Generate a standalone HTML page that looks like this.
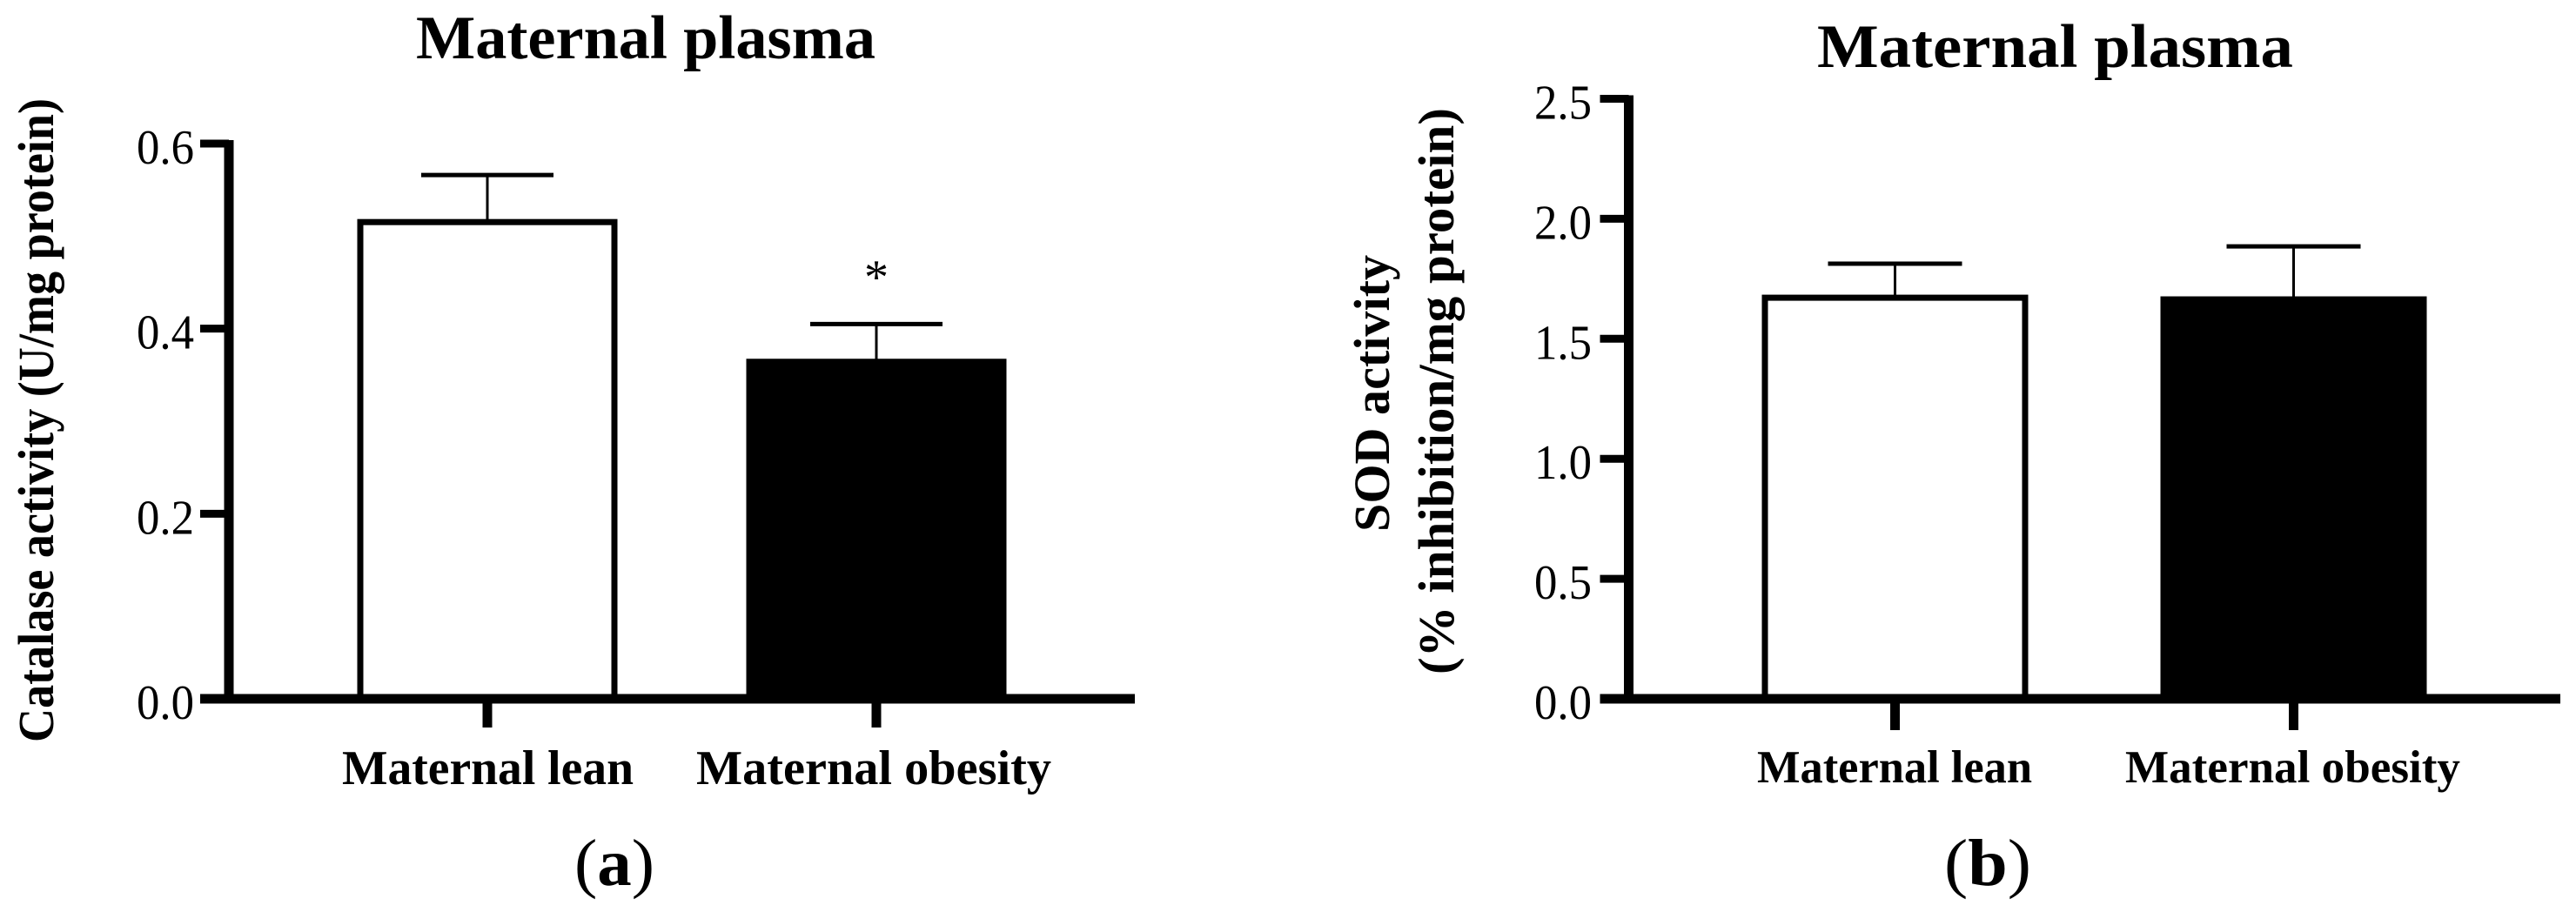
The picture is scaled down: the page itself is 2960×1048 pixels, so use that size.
<!DOCTYPE html>
<html lang="en">
<head>
<meta charset="utf-8">
<title>Maternal plasma catalase and SOD activity</title>
<style>
  html, body { margin: 0; padding: 0; background: #fff; }
  svg { display: block; }
  text { font-family: "Liberation Serif", serif; fill: #000; }
  .title { font-size: 71px; font-weight: bold; }
  .ylab { font-size: 58px; font-weight: bold; }
  .panel { font-size: 76px; }
</style>
</head>
<body>
<svg id="figure" xmlns="http://www.w3.org/2000/svg" width="2960" height="1048" viewBox="0 0 2960 1048">
  <rect x="0" y="0" width="2960" height="1048" fill="#fff"/>

  <g id="chart-a">
    <text class="title" x="478" y="67" textLength="528" lengthAdjust="spacingAndGlyphs">Maternal plasma</text>
    <text class="ylab" transform="translate(61,853) rotate(-90)" textLength="740" lengthAdjust="spacingAndGlyphs">Catalase activity (U/mg protein)</text>
    <text x="1007" y="337" font-size="56" text-anchor="middle">*</text>
    <text class="panel" x="660" y="1017" textLength="92" lengthAdjust="spacingAndGlyphs">(<tspan font-weight="bold">a</tspan>)</text>
  </g>

  <g id="chart-b">
    <text class="title" x="2088" y="77" textLength="547" lengthAdjust="spacingAndGlyphs">Maternal plasma</text>
    <text class="ylab" transform="translate(1596,611) rotate(-90)" textLength="318" lengthAdjust="spacingAndGlyphs">SOD activity</text>
    <text class="ylab" transform="translate(1670,775) rotate(-90)" textLength="651" lengthAdjust="spacingAndGlyphs">(% inhibition/mg protein)</text>
    <text class="panel" x="2234" y="1017" textLength="100" lengthAdjust="spacingAndGlyphs">(<tspan font-weight="bold">b</tspan>)</text>
  </g>
</svg>

<script>
// Chart data
const categories = ['Maternal lean', 'Maternal obesity'];
const catalaseValues = [0.518, 0.367];
const catalaseErrorTops = [0.566, 0.405];
const catalaseTicks = [0.0, 0.2, 0.4, 0.6];
const catalaseTickLabels = ['0.0', '0.2', '0.4', '0.6'];
const sodValues = [1.682, 1.675];
const sodErrorTops = [1.813, 1.885];
const sodTicks = [0.0, 0.5, 1.0, 1.5, 2.0, 2.5];
const sodTickLabels = ['0.0', '0.5', '1.0', '1.5', '2.0', '2.5'];
const barFills = ['#fff', '#000'];

const SVG_NS = 'http://www.w3.org/2000/svg';

function line(parent, x1, y1, x2, y2, w) {
  const el = document.createElementNS(SVG_NS, 'line');
  el.setAttribute('x1', x1);
  el.setAttribute('y1', y1);
  el.setAttribute('x2', x2);
  el.setAttribute('y2', y2);
  el.setAttribute('stroke', '#000');
  el.setAttribute('stroke-width', w);
  parent.appendChild(el);
  return el;
}

function drawChart(cfg) {
  const root = document.getElementById(cfg.id);
  const yScale = v => cfg.y0 + (cfg.yMaxPx - cfg.y0) * v / cfg.yMax;
  const xScale = i => cfg.x0 + cfg.xStep * i;

  // bars and error bars (drawn first so the axes sit on top)
  cfg.values.forEach((v, i) => {
    const cx = xScale(i);
    const top = yScale(v);
    const errTop = yScale(cfg.errors[i]);
    const stem = line(root, cx, errTop, cx, top + 2, 3);
    
    
    const cap = line(root, cx - cfg.capHalf, errTop, cx + cfg.capHalf, errTop, 5);
    
    
    const bar = document.createElementNS(SVG_NS, 'rect');
    bar.setAttribute('x', cx - cfg.barHalf + 3.5);
    bar.setAttribute('y', top + 3);
    bar.setAttribute('width', 2 * cfg.barHalf - 7);
    bar.setAttribute('height', cfg.y0 - top - 3);
    bar.setAttribute('fill', barFills[i]);
    bar.setAttribute('stroke', '#000');
    bar.setAttribute('stroke-width', 7);
    
    
    root.appendChild(bar);
  });

  // y axis
  const yAxis = line(root, cfg.axisX, yScale(cfg.yMax) - 4, cfg.axisX, cfg.y0 + 5, 11);
  
  
  cfg.ticks.forEach((t, i) => {
    const y = yScale(t);
    const tick = line(root, cfg.axisX - 33, y, cfg.axisX, y, i === 0 ? 10 : 9);
    
    
    const label = document.createElementNS(SVG_NS, 'text');
    label.setAttribute('x', cfg.axisX - cfg.labelOffset);
    label.setAttribute('y', y + 23);
    label.setAttribute('font-size', 56);
    label.setAttribute('textLength', 66);
    label.setAttribute('lengthAdjust', 'spacingAndGlyphs');
    label.textContent = cfg.tickLabels[i];
    
    
    root.appendChild(label);
  });

  // x axis
  const xAxis = line(root, cfg.axisX - 33, cfg.y0, cfg.axisEnd, cfg.y0, 11);
  
  
  categories.forEach((c, i) => {
    const cx = xScale(i);
    const tick = line(root, cx, cfg.y0, cx, cfg.tickBottom, 11);
    
    
    const label = document.createElementNS(SVG_NS, 'text');
    label.setAttribute('x', cfg.labelX[i]);
    label.setAttribute('y', cfg.labelBaseline);
    label.setAttribute('font-size', cfg.labelSize);
    label.setAttribute('font-weight', 'bold');
    label.setAttribute('textLength', cfg.labelLen[i]);
    label.setAttribute('lengthAdjust', 'spacingAndGlyphs');
    label.textContent = c;
    
    
    root.appendChild(label);
  });
}

drawChart({
  id: 'chart-a', values: catalaseValues, errors: catalaseErrorTops,
  ticks: catalaseTicks, tickLabels: catalaseTickLabels,
  y0: 803, yMaxPx: 165, yMax: 0.6,
  x0: 560, xStep: 447, barHalf: 149.5, capHalf: 76,
  axisX: 263, axisEnd: 1304, tickBottom: 836, labelOffset: 106,
  labelX: [393, 800], labelLen: [335, 408], labelBaseline: 901, labelSize: 56
});
drawChart({
  id: 'chart-b', values: sodValues, errors: sodErrorTops,
  ticks: sodTicks, tickLabels: sodTickLabels,
  y0: 803, yMaxPx: 113.5, yMax: 2.5,
  x0: 2177.5, xStep: 458, barHalf: 153, capHalf: 77,
  axisX: 1871.5, axisEnd: 2942, tickBottom: 839, labelOffset: 108.5,
  labelX: [2019, 2442], labelLen: [316, 385], labelBaseline: 899, labelSize: 53
});
</script>
</body>
</html>
